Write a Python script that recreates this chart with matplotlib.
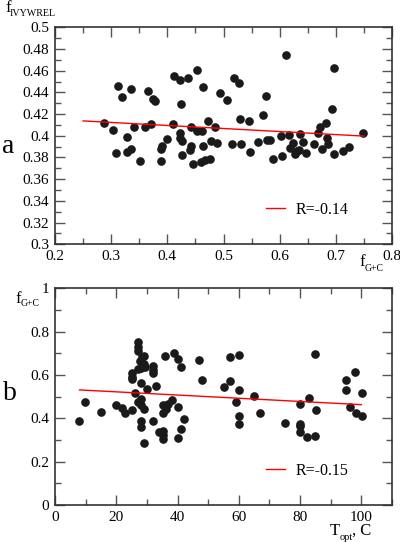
import matplotlib
matplotlib.use("Agg")
import matplotlib.pyplot as plt
from matplotlib.ticker import MultipleLocator, FuncFormatter

plt.rcParams['font.family'] = ['Liberation Serif', 'DejaVu Serif']

# panel a: G+C fraction vs IVYWREL fraction
gc_a = [0.288, 0.304, 0.309, 0.312, 0.319, 0.328, 0.328, 0.335, 0.336, 0.341,
        0.352, 0.361, 0.365, 0.371, 0.375, 0.378, 0.388, 0.388, 0.391, 0.400,
        0.410, 0.411, 0.423, 0.424, 0.423, 0.423, 0.426, 0.426, 0.436, 0.441,
        0.442, 0.442, 0.445, 0.452, 0.452, 0.460, 0.461, 0.464, 0.464, 0.467,
        0.473, 0.476, 0.477, 0.485, 0.489, 0.494, 0.506, 0.515, 0.519, 0.527,
        0.530, 0.532, 0.545, 0.548, 0.561, 0.570, 0.576, 0.577, 0.582, 0.589,
        0.603, 0.604, 0.612, 0.617, 0.619, 0.624, 0.627, 0.630, 0.634, 0.637,
        0.641, 0.646, 0.661, 0.669, 0.672, 0.676, 0.682, 0.684, 0.686, 0.693,
        0.696, 0.697, 0.712, 0.723, 0.749]
ivy_a = [0.412, 0.4055, 0.384, 0.446, 0.436, 0.399, 0.385, 0.388, 0.4435, 0.408,
         0.377, 0.408, 0.441, 0.411, 0.434, 0.432, 0.388, 0.377, 0.391, 0.397,
         0.411, 0.455, 0.451, 0.429, 0.403, 0.398, 0.3955, 0.3825, 0.4534, 0.387,
         0.391, 0.408, 0.374, 0.461, 0.404, 0.376, 0.404, 0.4445, 0.391, 0.378,
         0.414, 0.379, 0.395, 0.408, 0.393, 0.4396, 0.433, 0.392, 0.4537, 0.449,
         0.4153, 0.392, 0.4135, 0.385, 0.394, 0.419, 0.437, 0.396, 0.396, 0.379,
         0.400, 0.381, 0.474, 0.401, 0.389, 0.393, 0.383, 0.386, 0.387, 0.402,
         0.394, 0.384, 0.392, 0.403, 0.408, 0.388, 0.412, 0.3975, 0.392, 0.425,
         0.462, 0.383, 0.386, 0.390, 0.403]
fit_a_x = [0.25, 0.75]
fit_a_y = [0.4137, 0.3997]

# panel b: optimal temperature vs G+C fraction
topt_b = [7.9, 9.9, 15.0, 20.0, 22.0, 23.0, 25.0, 25.1, 25.1, 25.1,
          26.1, 27.0, 27.0, 27.0, 27.0, 27.6, 27.0, 28.0, 28.0, 28.0,
          28.0, 28.0, 28.0, 28.3, 28.9, 29.1, 29.4, 29.0, 29.0, 30.1,
          32.0, 32.0, 32.0, 32.0, 33.0, 34.0, 35.1, 35.1, 35.1, 35.1,
          35.1, 36.0, 36.1, 37.0, 38.1, 39.0, 40.0, 40.0, 40.0, 41.1,
          41.0, 42.0, 47.1, 48.0, 55.1, 57.1, 57.2, 59.1, 60.1, 60.1,
          60.0, 60.0, 65.0, 67.0, 75.1, 80.1, 80.1, 80.1, 80.1, 82.1,
          83.0, 85.0, 85.1, 85.0, 95.1, 95.1, 96.2, 98.0, 98.1, 100.1,
          100.1]
gc_b = [0.388, 0.476, 0.427, 0.461, 0.447, 0.423, 0.439, 0.607, 0.592, 0.581,
        0.516, 0.751, 0.728, 0.712, 0.626, 0.664, 0.476, 0.490, 0.630, 0.564,
        0.463, 0.388, 0.360, 0.684, 0.650, 0.689, 0.635, 0.442, 0.288, 0.533,
        0.643, 0.623, 0.607, 0.388, 0.549, 0.335, 0.340, 0.325, 0.303, 0.461,
        0.423, 0.688, 0.441, 0.466, 0.484, 0.700, 0.672, 0.453, 0.307, 0.638,
        0.351, 0.399, 0.670, 0.578, 0.545, 0.570, 0.684, 0.474, 0.694, 0.530,
        0.411, 0.372, 0.505, 0.426, 0.378, 0.465, 0.374, 0.363, 0.335, 0.312,
        0.494, 0.698, 0.437, 0.318, 0.576, 0.529, 0.452, 0.613, 0.425, 0.519,
        0.411]
fit_b_x = [8, 100]
fit_b_y = [0.531, 0.463]

W, H = 400, 542
short_fmt = FuncFormatter(lambda v, p: f'{v:g}')

fig = plt.figure(figsize=(W / 100, H / 100), dpi=100)


def px_text(x, y, s, size):
    # place text by pixel position (from top-left), baseline aligned
    fig.text(x / W, 1 - y / H, s, fontsize=size, va='baseline', ha='left')


def style_axes(ax):
    for s in ax.spines.values():
        s.set_linewidth(1.2)
        s.set_color('#333333')
    ax.tick_params(which='both', direction='in', top=True, right=True,
                   color='#555555', labelsize=11, width=1)
    ax.tick_params(which='major', length=7, pad=4)
    ax.tick_params(which='minor', length=4)


ax1 = fig.add_axes([0.1375, 0.5493, 0.8425, 0.4004])
ax1.plot(gc_a, ivy_a, 'o', color='#1a1a1a', markersize=5.2, linestyle='none')
ax1.plot(fit_a_x, fit_a_y, color='red', lw=1, label='R=-0.14')
ax1.set_xlim(0.2, 0.8)
ax1.set_ylim(0.3, 0.5)
ax1.xaxis.set_major_locator(MultipleLocator(0.1))
ax1.xaxis.set_minor_locator(MultipleLocator(0.05))
ax1.yaxis.set_major_locator(MultipleLocator(0.02))
ax1.yaxis.set_minor_locator(MultipleLocator(0.01))
ax1.xaxis.set_major_formatter(short_fmt)
ax1.yaxis.set_major_formatter(short_fmt)
style_axes(ax1)
ax1.legend(loc='center left', bbox_to_anchor=(0.582, 0.158), frameon=False,
           fontsize=11.5, handlelength=1.25, handletextpad=0.65)

ax2 = fig.add_axes([0.1375, 0.0683, 0.8425, 0.3998])
ax2.plot(topt_b, gc_b, 'o', color='#1a1a1a', markersize=5.2, linestyle='none')
ax2.plot(fit_b_x, fit_b_y, color='red', lw=1, label='R=-0.15')
ax2.set_xlim(0, 110)
ax2.set_ylim(0, 1)
ax2.xaxis.set_major_locator(MultipleLocator(20))
ax2.xaxis.set_minor_locator(MultipleLocator(10))
ax2.yaxis.set_major_locator(MultipleLocator(0.2))
ax2.yaxis.set_minor_locator(MultipleLocator(0.1))
ax2.yaxis.set_major_formatter(short_fmt)
style_axes(ax2)
ax2.legend(loc='center left', bbox_to_anchor=(0.582, 0.157), frameon=False,
           fontsize=11.5, handlelength=1.25, handletextpad=0.65)

# axis labels with small subscripts
px_text(5, 12, 'f', 12)
px_text(10, 15.5, 'IVYWREL', 7.2)
px_text(359, 266, 'f', 12)
px_text(364.5, 271, 'G+C', 7)
px_text(15, 303, 'f', 12)
px_text(20.5, 306.5, 'G+C', 7)
px_text(330, 535, 'T', 12)
px_text(339.5, 540, 'opt', 7.5)
px_text(351.5, 535, ', C', 12)

# panel letters
px_text(2, 153, 'a', 20)
px_text(3, 400, 'b', 20)

fig.savefig('out.png', dpi=100)
